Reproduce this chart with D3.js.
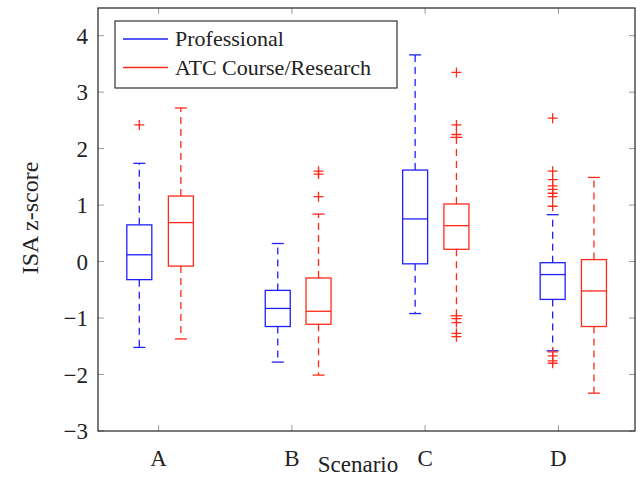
<!DOCTYPE html>
<html>
<head>
<meta charset="utf-8">
<script src="https://cdn.jsdelivr.net/npm/d3@7"></script>
<style>
  body { margin: 0; background: #fff; }
</style>
</head>
<body>
<div id="chart"></div>
<script>
// chart data
var scenarios = ['A', 'B', 'C', 'D'];
var seriesNames = ['Professional', 'ATC Course/Research'];
var yTicks = [-3, -2, -1, 0, 1, 2, 3, 4];

// draw positions of the boxes (scenario ticks sit at 1..4)
var proPos = [0.855, 1.894, 2.925, 3.957];
var atcPos = [1.167, 2.2, 3.235, 4.267];

// box stats: [lower whisker, q1, median, q3, upper whisker]
var proStats = [
    [-1.52, -0.32, 0.12, 0.65, 1.74],
    [-1.78, -1.15, -0.83, -0.51, 0.32],
    [-0.92, -0.04, 0.755, 1.62, 3.66],
    [-1.58, -0.67, -0.23, -0.02, 0.83]
];
var atcStats = [
    [-1.37, -0.08, 0.69, 1.16, 2.72],
    [-2.01, -1.11, -0.88, -0.29, 0.84],
    [-0.96, 0.217, 0.636, 1.02, 2.2],
    [-2.33, -1.15, -0.52, 0.035, 1.49]
];

var proOutliers = [
    [2.42],
    [],
    [],
    [2.54, 1.6, 1.45, 1.34, 1.28, 1.21, 1.15, 0.98, -1.6, -1.67, -1.76, -1.8]
];
var atcOutliers = [
    [],
    [1.15, 1.55, 1.6],
    [3.35, 2.42, 2.25, -1.01, -1.08, -1.27, -1.33],
    []
];

// svg setup
var svgWidth = 640;
var svgHeight = 477;
var margins = { top: 8, right: 5, bottom: 46, left: 98 };
var chartWidth = svgWidth - margins.left - margins.right;
var chartHeight = svgHeight - margins.top - margins.bottom;
var serif = "'Liberation Serif', serif";

var svg = d3.select('#chart')
    .append('svg')
    .attr('width', svgWidth)
    .attr('height', svgHeight)
    .style('font-family', serif);

var chartGroup = svg.append('g')
    .attr('transform', `translate(${margins.left}, ${margins.top})`);

var xScale = d3.scaleLinear()
    .domain([0.545, 4.575])
    .range([0, chartWidth]);

var yScale = d3.scaleLinear()
    .domain([-3, 4.49])
    .range([chartHeight, 0]);

var tickColor = '#9a9a9a';

// tick marks on all four sides, pointing inward
var xTickVals = [1, 2, 3, 4];
chartGroup.selectAll('.xtb')
    .data(xTickVals).enter().append('line')
    .attr('x1', d => xScale(d)).attr('x2', d => xScale(d))
    .attr('y1', chartHeight).attr('y2', chartHeight - 6)
    .attr('stroke', tickColor).attr('stroke-width', 1);
chartGroup.selectAll('.xtt')
    .data(xTickVals).enter().append('line')
    .attr('x1', d => xScale(d)).attr('x2', d => xScale(d))
    .attr('y1', 0).attr('y2', 6)
    .attr('stroke', tickColor).attr('stroke-width', 1);
chartGroup.selectAll('.ytl')
    .data(yTicks).enter().append('line')
    .attr('x1', 0).attr('x2', 6)
    .attr('y1', d => yScale(d)).attr('y2', d => yScale(d))
    .attr('stroke', tickColor).attr('stroke-width', 1);
chartGroup.selectAll('.ytr')
    .data(yTicks).enter().append('line')
    .attr('x1', chartWidth).attr('x2', chartWidth - 6)
    .attr('y1', d => yScale(d)).attr('y2', d => yScale(d))
    .attr('stroke', tickColor).attr('stroke-width', 1);

// tick labels
chartGroup.selectAll('.ylab')
    .data(yTicks).enter().append('text')
    .attr('x', -10)
    .attr('y', d => yScale(d) + 8)
    .attr('text-anchor', 'end')
    .attr('fill', '#222')
    .style('font-size', '23px')
    .text(d => d < 0 ? '\u2212' + Math.abs(d) : d);

chartGroup.selectAll('.xlab')
    .data(scenarios).enter().append('text')
    .attr('x', (d, i) => xScale(i + 1))
    .attr('y', chartHeight + 35)
    .attr('text-anchor', 'middle')
    .attr('fill', '#222')
    .style('font-size', '23px')
    .text(d => d);

// axis titles
svg.append('text')
    .attr('x', 358)
    .attr('y', 472)
    .attr('text-anchor', 'middle')
    .attr('fill', '#222')
    .style('font-size', '23px')
    .text('Scenario');

svg.append('text')
    .attr('transform', 'translate(38, 218) rotate(-90)')
    .attr('text-anchor', 'middle')
    .attr('fill', '#222')
    .style('font-size', '24px')
    .text('ISA z-score');

// boxplots
var boxW = 25;
var capW = 12;
var blue = '#1f1fff';
var red = '#ff2a1a';

function drawBoxes(stats, pos, color) {
    var g = chartGroup.append('g');
    stats.forEach(function(s, i) {
        var cx = xScale(pos[i]);
        // whiskers
        g.append('line')
            .attr('x1', cx).attr('x2', cx)
            .attr('y1', yScale(s[3])).attr('y2', yScale(s[4]))
            .attr('stroke', color).attr('stroke-width', 1.3)
            .attr('stroke-dasharray', '7,5');
        g.append('line')
            .attr('x1', cx).attr('x2', cx)
            .attr('y1', yScale(s[1])).attr('y2', yScale(s[0]))
            .attr('stroke', color).attr('stroke-width', 1.3)
            .attr('stroke-dasharray', '7,5');
        // caps
        [s[0], s[4]].forEach(function(v) {
            g.append('line')
                .attr('x1', cx - capW / 2).attr('x2', cx + capW / 2)
                .attr('y1', yScale(v)).attr('y2', yScale(v))
                .attr('stroke', color).attr('stroke-width', 1.3);
        });
        // box
        g.append('rect')
            .attr('x', cx - boxW / 2)
            .attr('y', yScale(s[3]))
            .attr('width', boxW)
            .attr('height', yScale(s[1]) - yScale(s[3]))
            .attr('fill', 'none')
            .attr('stroke', color).attr('stroke-width', 1.3);
        // median
        g.append('line')
            .attr('x1', cx - boxW / 2).attr('x2', cx + boxW / 2)
            .attr('y1', yScale(s[2])).attr('y2', yScale(s[2]))
            .attr('stroke', color).attr('stroke-width', 1.3);
    });
}

function drawOutliers(outs, pos) {
    var g = chartGroup.append('g');
    outs.forEach(function(list, i) {
        var cx = xScale(pos[i]);
        list.forEach(function(v) {
            var cy = yScale(v);
            g.append('path')
                .attr('d', `M${cx - 5},${cy}H${cx + 5}M${cx},${cy - 5}V${cy + 5}`)
                .attr('stroke', red).attr('stroke-width', 1.3)
                .attr('fill', 'none');
        });
    });
}

drawBoxes(proStats, proPos, blue);
drawBoxes(atcStats, atcPos, red);
drawOutliers(proOutliers, proPos);
drawOutliers(atcOutliers, atcPos);

// frame
chartGroup.append('rect')
    .attr('width', chartWidth)
    .attr('height', chartHeight)
    .attr('fill', 'none')
    .attr('stroke', '#222')
    .attr('stroke-width', 1.2);

// legend
var legend = chartGroup.append('g')
    .attr('transform', 'translate(17, 13)');
legend.append('rect')
    .attr('width', 282)
    .attr('height', 67)
    .attr('fill', '#fff')
    .attr('stroke', '#333')
    .attr('stroke-width', 1.2);
var legendColors = [blue, red];
seriesNames.forEach(function(name, i) {
    var ly = 18 + i * 28.5;
    legend.append('line')
        .attr('x1', 8).attr('x2', 53)
        .attr('y1', ly).attr('y2', ly)
        .attr('stroke', legendColors[i]).attr('stroke-width', 1.3);
    legend.append('text')
        .attr('x', 60)
        .attr('y', ly + 7)
        .attr('fill', '#222')
        .style('font-size', '22px')
        .text(name);
});
</script>
</body>
</html>
